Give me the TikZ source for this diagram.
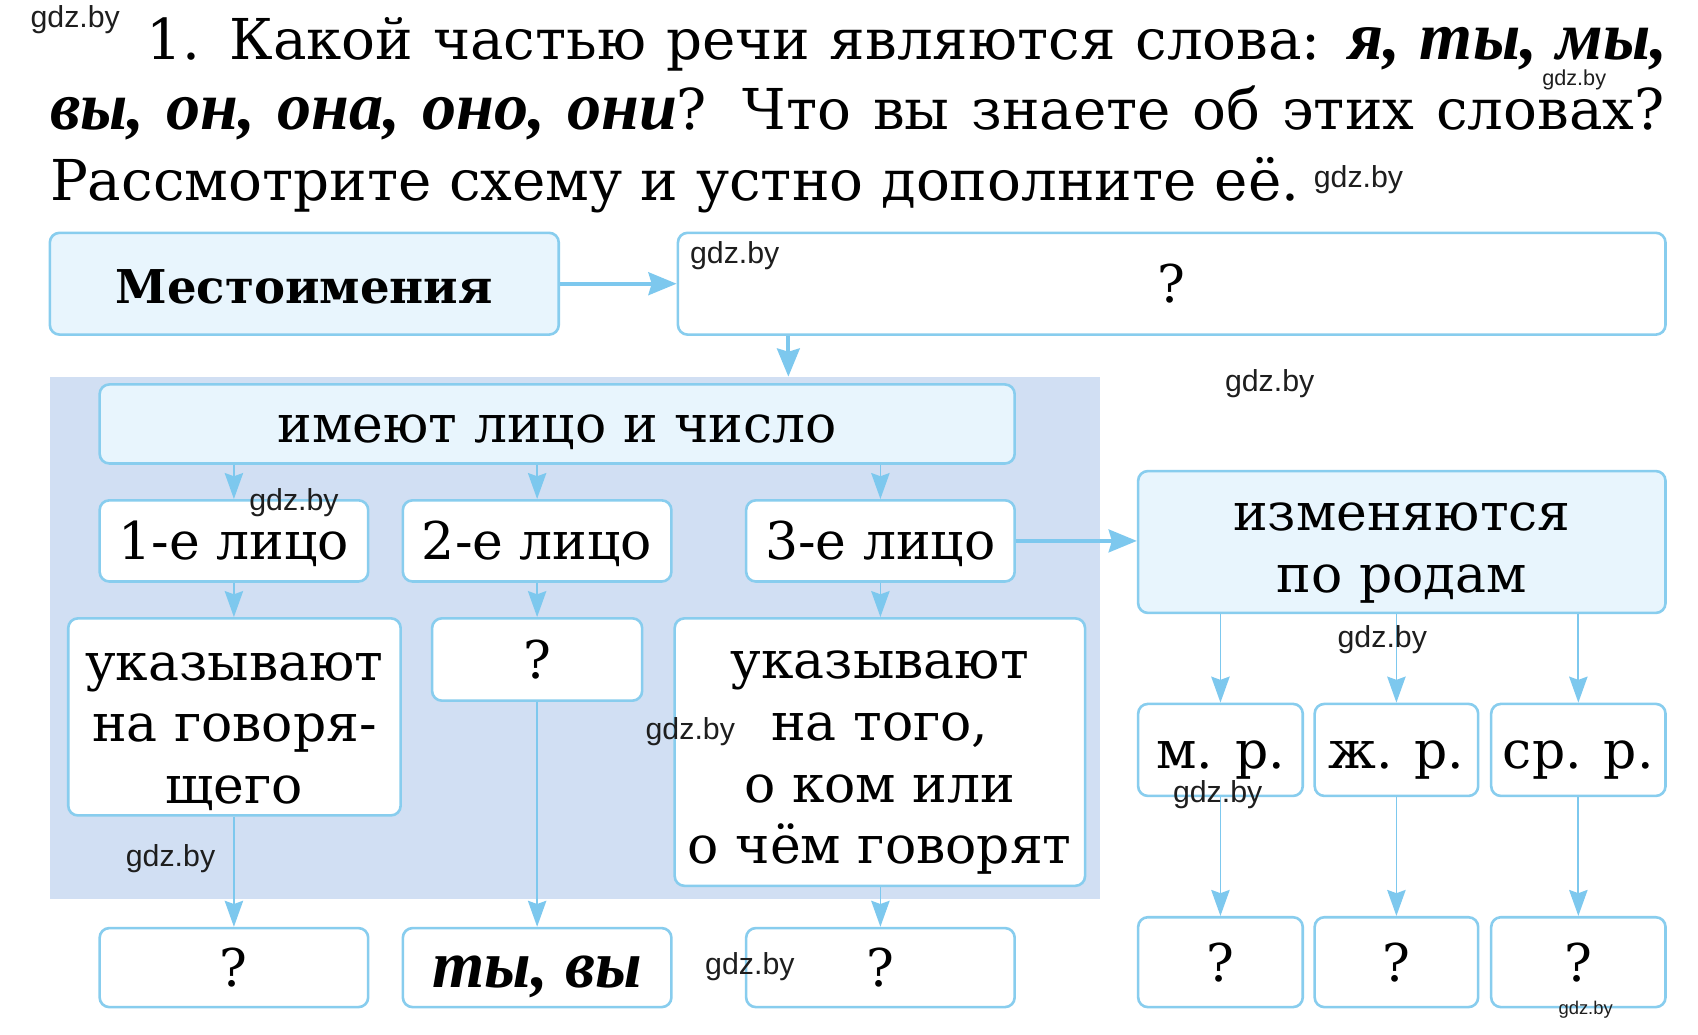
\documentclass[tikz,border=0pt]{standalone}
\usepackage{fontspec}
\setmainfont{DejaVu Serif}
\newfontfamily\itf{Liberation Serif}
\newfontfamily\wmf{Liberation Sans}
\usetikzlibrary{arrows.meta}
\definecolor{bordc}{RGB}{136,205,238}
\definecolor{arrc}{RGB}{125,200,238}
\definecolor{lightf}{RGB}{232,245,253}
\definecolor{bgc}{RGB}{209,223,243}
\definecolor{wmc}{RGB}{30,30,30}
\newcommand{\bit}[1]{{\itf\bfseries\itshape\fontsize{63}{63}\selectfont #1}}
\newcommand{\bib}[1]{{\itf\bfseries\itshape\fontsize{62}{62}\selectfont #1}}
\begin{document}
\begin{tikzpicture}[x=1pt,y=-1pt,
  txt/.style={font=\fontsize{48}{57}\selectfont, text=black},
  wbox/.style={draw=bordc, line width=2.4pt, rounded corners=9pt, fill=white, txt, inner sep=0pt, align=center},
  lbox/.style={wbox, fill=lightf},
  one/.style={text height=38pt, text depth=4pt},
  tarr/.style={draw=arrc, line width=1.6pt, -{Stealth[length=24pt,width=17pt,inset=3pt]}},
  barr/.style={draw=arrc, line width=3.5pt, -{Stealth[length=26pt,width=21pt,inset=3pt]}},
  wm/.style={font=\wmf\fontsize{28}{28}\selectfont, text=wmc, inner sep=0pt, anchor=north west},
  ttl/.style={font=\fontsize{52}{65}\selectfont, text=black, inner sep=0pt, anchor=base west}
]
\useasboundingbox[fill=white] (0,0) rectangle (1568,955);

% title
\node[ttl] (t1) at (135,55) {\makebox[1405pt][s]{1. Какой частью речи являются слова: \bit{я, ты, мы,}}};
\node[ttl] (t2) at (46,120) {\makebox[1491pt][s]{\bit{вы, он, она, оно, они}? Что вы знаете об этих словах?}};
\node[ttl] (t3) at (46,185) {Рассмотрите схему и устно дополните её.};

% background
\node[fill=bgc, minimum width=970pt, minimum height=482pt, inner sep=0pt] (bg) at (531,589) {};

% boxes
\node[lbox, text height=36pt, text depth=0pt, minimum width=470pt, minimum height=94pt, font=\fontsize{43}{57}\selectfont\bfseries] (mest) at (281,262) {Местоимения};
\node[wbox, minimum width=912pt, minimum height=94pt] (q1) at (1082,262) {?};
\node[lbox, one, minimum width=845pt, minimum height=73pt] (im) at (514.5,391.5) {имеют лицо и число};
\node[wbox, one, minimum width=248pt, minimum height=75pt] (p1) at (216,499.5) {1-е лицо};
\node[wbox, one, minimum width=248pt, minimum height=75pt] (p2) at (496,499.5) {2-е лицо};
\node[wbox, one, minimum width=248pt, minimum height=75pt] (p3) at (813,499.5) {3-е лицо};
\node[lbox, minimum width=487pt, minimum height=131pt] (izm) at (1294.5,500.5) {\rule{0pt}{0.95em}изменяются\\по родам};
\node[wbox, minimum width=307pt, minimum height=182pt] (u1) at (216.5,662) {\rule{0pt}{1.1em}указывают\\на говоря-\\щего};
\node[wbox, minimum width=194pt, minimum height=76pt] (q2) at (496,609) {?};
\node[wbox, minimum width=379pt, minimum height=247pt] (u3) at (812.5,694.5) {\rule{0pt}{0.95em}указывают\\на того,\\о ком или\\о чём говорят};
\node[wbox, minimum width=248pt, minimum height=73pt] (b1) at (216,893.5) {?};
\node[wbox, text height=37pt, text depth=0pt, minimum width=248pt, minimum height=73pt] (b2) at (496,893.5) {\bib{ты, вы}};
\node[wbox, minimum width=248pt, minimum height=73pt] (b3) at (813,893.5) {?};
\node[wbox, one, minimum width=152pt, minimum height=85pt] (gm) at (1127,692.5) {м. р.};
\node[wbox, one, minimum width=151pt, minimum height=85pt] (gz) at (1289.5,692.5) {ж. р.};
\node[wbox, one, minimum width=161pt, minimum height=85pt] (gs) at (1457.5,692.5) {ср. р.};
\node[wbox, minimum width=152pt, minimum height=83pt] (qm) at (1127,888.5) {?};
\node[wbox, minimum width=151pt, minimum height=83pt] (qz) at (1289.5,888.5) {?};
\node[wbox, minimum width=161pt, minimum height=83pt] (qs) at (1457.5,888.5) {?};

% connectors
\coordinate (c1) at (728,348);
\draw[barr] (mest.east) -- (q1.west);
\draw[barr] (q1.south -| c1) -- (c1 |- bg.north);
\draw[barr] (p3.east) -- (izm.west |- p3.east);
\draw[tarr] (im.south -| p1.north) -- (p1.north);
\draw[tarr] (im.south -| p2.north) -- (p2.north);
\draw[tarr] (im.south -| p3.north) -- (p3.north);
\draw[tarr] (p1.south) -- (p1.south |- u1.north);
\draw[tarr] (p2.south) -- (p2.south |- q2.north);
\draw[tarr] (p3.south) -- (p3.south |- u3.north);
\draw[tarr] (u1.south -| b1.north) -- (b1.north);
\draw[tarr] (q2.south -| b2.north) -- (b2.north);
\draw[tarr] (u3.south -| b3.north) -- (b3.north);
\draw[tarr] (izm.south -| gm.north) -- (gm.north);
\draw[tarr] (izm.south -| gz.north) -- (gz.north);
\draw[tarr] (izm.south -| gs.north) -- (gs.north);
\draw[tarr] (gm.south) -- (qm.north);
\draw[tarr] (gz.south) -- (qz.north);
\draw[tarr] (gs.south) -- (qs.north);

% watermarks
\node[wm] (w1) at (28,5) {gdz.by};
\node[wm, font=\wmf\fontsize{20}{20}\selectfont] (w2) at (1424,64) {gdz.by};
\node[wm] (w3) at (1213,153) {gdz.by};
\node[wm] (w4) at (637,223) {gdz.by};
\node[wm] (w5) at (1131,341) {gdz.by};
\node[wm] (w6) at (230,451) {gdz.by};
\node[wm] (w7) at (1235,577) {gdz.by};
\node[wm] (w8) at (596,662) {gdz.by};
\node[wm] (w9) at (1083,721) {gdz.by};
\node[wm] (w10) at (116,780) {gdz.by};
\node[wm] (w11) at (651,879) {gdz.by};
\node[wm, font=\wmf\fontsize{17}{17}\selectfont] (w12) at (1439,924) {gdz.by};
\end{tikzpicture}
\end{document}
